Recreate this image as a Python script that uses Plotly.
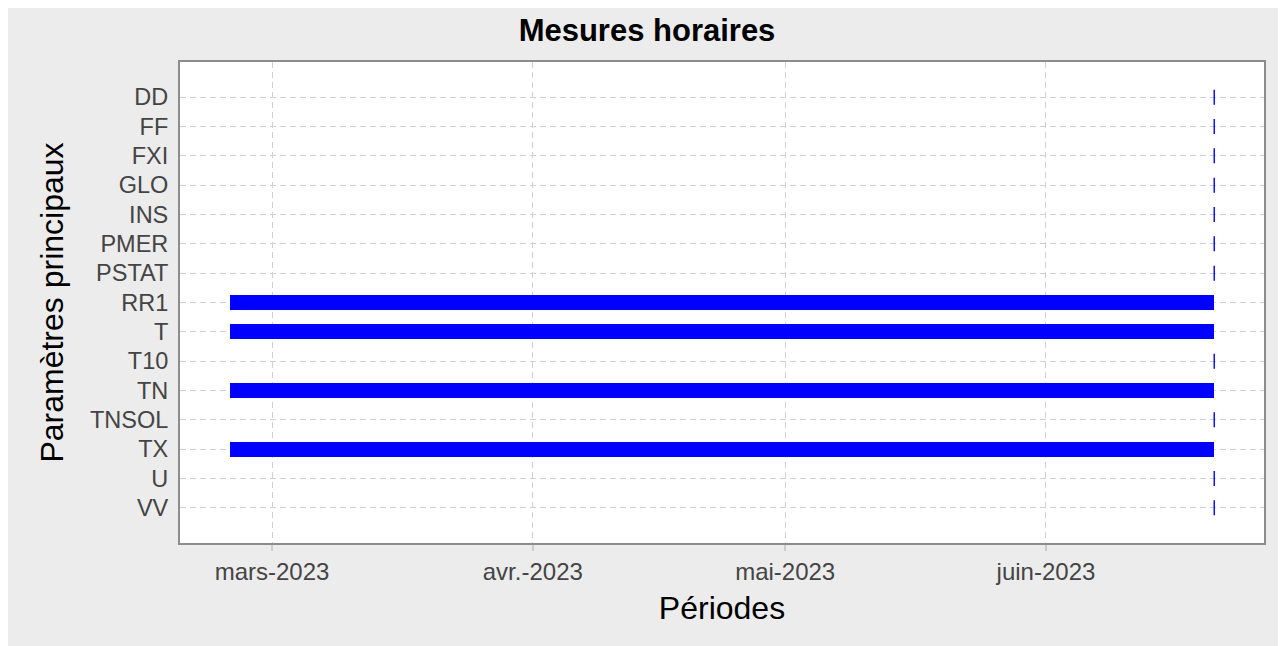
import pandas as pd
import plotly.graph_objects as go

params = ["DD", "FF", "FXI", "GLO", "INS", "PMER", "PSTAT", "RR1", "T", "T10", "TN", "TNSOL", "TX", "U", "VV"]
starts = ["2023-06-21", "2023-06-21", "2023-06-21", "2023-06-21", "2023-06-21", "2023-06-21", "2023-06-21",
          "2023-02-24", "2023-02-24", "2023-06-21", "2023-02-24", "2023-06-21", "2023-02-24", "2023-06-21", "2023-06-21"]
ends = ["2023-06-21"] * 15

tick_vals = ["2023-03-01", "2023-04-01", "2023-05-01", "2023-06-01"]
tick_text = ["mars-2023", "avr.-2023", "mai-2023", "juin-2023"]
x_range = ["2023-02-18 01:30", "2023-06-26 22:00"]

title = "Mesures horaires"
x_title = "Périodes"
y_title = "Paramètres principaux"

BLUE = "#0000ff"
FONT = "Liberation Sans, Arial, sans-serif"

bar_y, bar_base, bar_len = [], [], []
pt_y, pt_x = [], []
for p, s, e in zip(params, starts, ends):
    ts, te = pd.Timestamp(s), pd.Timestamp(e)
    if te > ts:
        bar_y.append(p)
        bar_base.append(s)
        bar_len.append((te - ts).total_seconds() * 1000.0)
    else:
        pt_y.append(p)
        pt_x.append(s)

fig = go.Figure()
fig.add_trace(go.Bar(
    y=bar_y, x=bar_len, base=bar_base, orientation="h",
    marker=dict(color=BLUE, line=dict(width=0)), width=0.51,
    showlegend=False, hoverinfo="skip",
))
fig.add_trace(go.Scatter(
    y=pt_y, x=pt_x, mode="markers",
    marker=dict(symbol="line-ns", size=10.7, color=BLUE, line=dict(color=BLUE, width=1.4)),
    showlegend=False, hoverinfo="skip",
))

W, H = 1278, 638
fig.update_layout(
    width=W, height=H,
    margin=dict(l=172, r=22, t=53.5, b=103.3),
    paper_bgcolor="#ececec", plot_bgcolor="white",
    font=dict(family=FONT, color="#444444", size=22),
    title=dict(text="<b>" + title + "</b>", x=639 / W, xanchor="center", y=1 - 22 / H, yanchor="middle",
               font=dict(family=FONT, size=31, color="black")),
    bargap=0,
)
fig.update_xaxes(
    type="date", range=x_range, tickvals=tick_vals, ticktext=tick_text,
    showgrid=True, gridcolor="#d0d0d0", gridwidth=1, griddash="6px,4px",
    showline=True, linecolor="#8c8c8c", linewidth=2, mirror=True,
    ticks="outside", ticklen=6, tickcolor="#cccccc", tickwidth=2,
    tickfont=dict(size=24, color="#444444"), ticklabelstandoff=0,
    title=dict(text=x_title, font=dict(size=32, color="black"), standoff=13),
    zeroline=False,
)
fig.update_yaxes(
    type="category", categoryorder="array", categoryarray=params, range=[15.2, -1.2],
    showgrid=True, gridcolor="#d0d0d0", gridwidth=1, griddash="6px,4px",
    showline=True, linecolor="#8c8c8c", linewidth=2, mirror=True,
    ticks="", tickfont=dict(size=23.5, color="#444444"), ticklabelstandoff=5,
    title=dict(text=y_title, font=dict(size=32, color="black"), standoff=17),
    zeroline=False,
)

fig.write_html("out.html")
